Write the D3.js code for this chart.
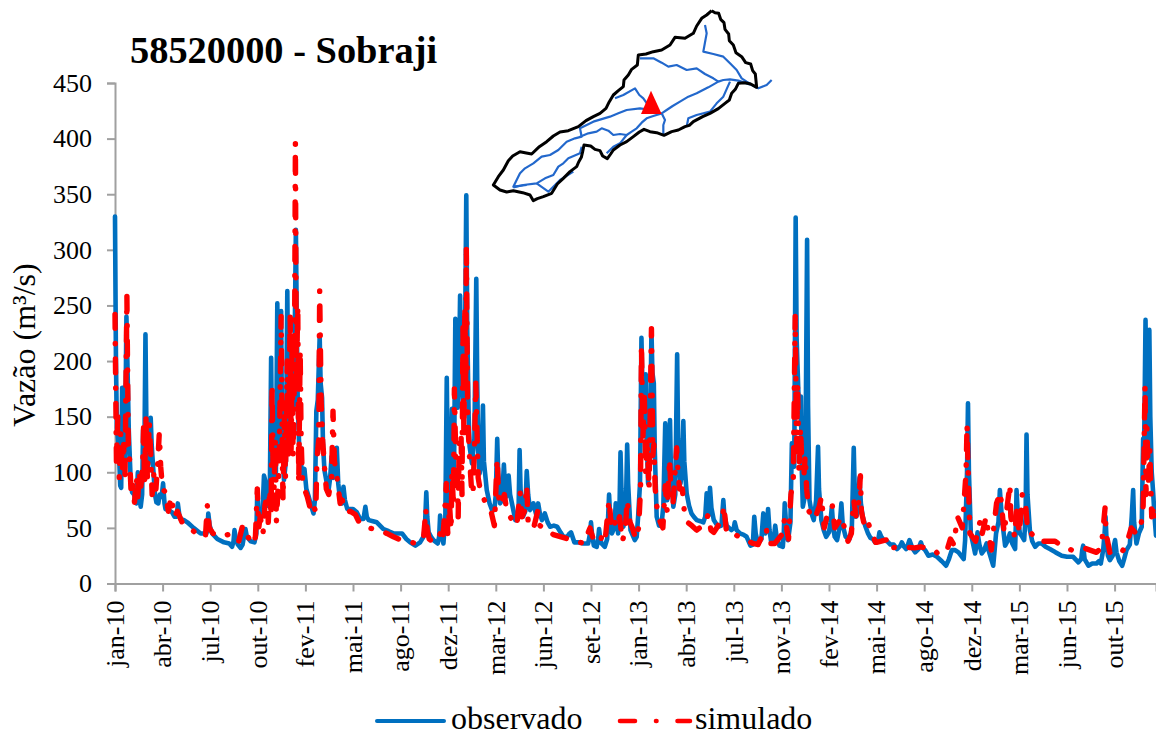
<!DOCTYPE html>
<html lang="pt">
<head>
<meta charset="utf-8">
<title>58520000 - Sobraji</title>
<script src="https://cdn.jsdelivr.net/npm/d3@7/dist/d3.min.js"></script>
<style>
html,body{margin:0;padding:0;background:#fff}
svg{display:block}
text{font-family:"Liberation Serif","Times New Roman",serif;fill:#000}
</style>
</head>
<body>
<svg id="chart" width="1156" height="736">
<defs>
<filter id="soft" x="-5%" y="-5%" width="110%" height="110%"><feGaussianBlur stdDeviation="0.45"/></filter>
<filter id="softer" x="-5%" y="-5%" width="110%" height="110%"><feGaussianBlur stdDeviation="0.6"/></filter>
</defs>
</svg>
<script>
const chartTitle = "58520000 - Sobraji";
const yTitle = "Vazão (m³/s)";
const seriesNames = ["observado", "simulado"];
const yTicks = [0, 50, 100, 150, 200, 250, 300, 350, 400, 450];
const tickEveryDays = 100;
const lastDay = 2187;
const xTickLabels = ["jan-10","abr-10","jul-10","out-10","fev-11","mai-11","ago-11","dez-11","mar-12","jun-12","set-12","jan-13","abr-13","jul-13","nov-13","fev-14","mai-14","ago-14","dez-14","mar-15","jun-15","out-15"];

// [days since 1 Jan 2010, m3/s]
const observado = [
[0,330],[2,200],[4,140],[8,122],[11,88],[13,86],[15,176],[19,176],[21,110],[24,240],[26,200],[29,137],[33,92],[36,82],[40,80],[45,72],[48,100],[50,82],[54,69],[57,80],[59,138],[62,130],[64,224],[66,140],[69,105],[73,125],[75,149],[77,125],[80,105],[84,80],[87,73],[91,72],[94,80],[98,78],[101,90],[104,72],[106,67],[113,66],[120,64],[125,60],[130,60],[132,72],[135,62],[138,58],[145,57],[152,55],[165,50],[180,45],[192,45],[194,48],[196,63],[199,52],[204,45],[215,40],[229,37],[240,36],[246,33],[249,38],[251,48],[254,40],[258,35],[264,32],[268,35],[272,45],[274,49],[277,42],[285,38],[293,37],[297,45],[299,85],[301,65],[304,57],[310,65],[313,97],[316,92],[320,70],[325,70],[328,203],[330,120],[333,95],[338,100],[341,252],[343,150],[345,120],[347,170],[349,245],[351,130],[355,93],[359,110],[362,263],[364,170],[367,145],[370,165],[374,155],[377,200],[380,318],[382,230],[384,160],[387,123],[393,99],[398,103],[402,85],[407,78],[412,70],[417,63],[420,75],[423,155],[426,165],[430,222],[432,180],[435,167],[437,125],[440,102],[445,90],[449,85],[452,95],[455,114],[457,100],[459,95],[463,100],[466,122],[469,90],[473,75],[477,72],[480,87],[483,75],
[488,67],[500,67],[508,64],[515,58],[522,58],[526,69],[529,60],[533,57],[542,56],[550,55],[564,49],[575,47],[585,45],[595,45],[603,45],[612,40],[620,37],[631,34],[641,37],[648,42],[651,50],[654,82],[656,60],[659,46],[664,42],[669,39],[678,36],[681,42],[683,61],[686,44],[690,36],[694,60],[697,185],[699,110],[703,63],[705,90],[708,157],[710,120],[712,90],[715,238],[717,190],[720,158],[723,200],[725,259],[727,200],[732,153],[735,200],[738,349],[740,230],[743,150],[745,123],[750,108],[755,130],[759,274],[761,180],[763,120],[766,99],[770,110],[773,160],[775,110],[781,84],[787,72],[792,66],[797,66],[800,80],[803,130],[805,100],[809,72],[813,75],[817,107],[819,90],[822,78],[825,82],[827,97],[830,80],[834,72],[841,57],[845,57],[848,70],[850,120],[852,85],[857,60],[862,65],[865,101],[868,80],[872,66],[879,72],[886,60],[889,72],[893,62],[897,57],[903,63],[909,55],[914,51],[922,52],[929,51],[936,46],[942,42],[950,42],[955,45],[958,46],[965,37],[975,37],[984,36],[994,36],[998,45],[1000,55],[1002,45],
[1006,34],[1012,33],[1015,40],[1017,49],[1019,42],[1022,36],[1029,33],[1034,40],[1036,60],[1038,80],[1040,62],[1044,45],[1049,50],[1052,72],[1054,58],[1057,45],[1060,70],[1062,118],[1064,85],[1068,51],[1073,60],[1076,125],[1078,90],[1083,48],[1092,39],[1096,42],[1099,60],[1103,90],[1106,221],[1108,180],[1112,135],[1115,188],[1117,130],[1120,90],[1124,120],[1127,228],[1129,190],[1132,180],[1134,120],[1138,60],[1143,52],[1148,52],[1152,70],[1156,144],[1158,100],[1160,75],[1163,85],[1166,147],[1168,100],[1173,69],[1177,80],[1181,206],[1183,130],[1188,90],[1191,100],[1194,146],[1196,110],[1201,81],[1206,70],[1211,63],[1216,60],[1222,57],[1230,56],[1236,55],[1240,60],[1243,81],[1245,62],[1248,62],[1250,86],[1253,68],[1258,57],[1267,51],[1274,52],[1278,75],[1280,62],[1285,52],[1295,48],[1300,50],[1302,55],[1306,48],[1313,45],[1320,44],[1327,42],[1335,34],[1340,35],[1343,60],[1346,45],[1351,36],[1358,40],[1362,63],[1364,48],[1366,45],[1370,50],[1372,67],[1375,48],[1379,36],[1384,40],[1387,52],[1390,42],[1396,34],[1403,33],[1405,45],[1407,72],[1410,52],[1414,39],[1419,55],[1422,126],[1427,105],[1430,329],[1432,220],[1436,168],[1441,168],[1443,100],[1445,69],[1450,80],[1454,309],[1456,160],[1459,75],[1464,62],[1468,57],[1473,75],[1477,123],[1479,85],[1484,57],[1489,48],[1494,42],[1500,46],[1503,55],[1506,69],[1509,50],[1512,42],[1517,39],[1522,50],[1526,72],[1529,52],[1535,42],[1543,40],[1548,50],[1552,122],[1554,85],[1557,60],[1561,65],[1564,95],[1567,72],[1571,60],[1576,52],[1582,45],
[1587,41],[1592,40],[1597,37],[1603,38],[1606,46],[1610,42],[1615,39],[1622,38],[1629,35],[1636,35],[1643,31],[1650,34],[1653,37],[1658,33],[1662,31],[1666,35],[1669,39],[1675,32],[1681,28],[1688,31],[1693,37],[1697,32],[1702,30],[1709,25],[1718,26],[1727,24],[1737,20],[1746,16],[1752,22],[1758,30],[1765,30],[1772,28],[1783,22],[1786,39],[1790,100],[1792,162],[1794,100],[1798,45],[1807,27],[1810,35],[1812,46],[1816,35],[1821,27],[1826,30],[1831,36],[1838,26],[1845,16],[1848,30],[1851,45],[1856,55],[1859,84],[1863,60],[1870,34],[1875,38],[1880,45],[1885,36],[1891,31],[1893,60],[1894,84],[1897,60],[1901,45],[1906,42],[1910,39],[1913,60],[1915,134],[1917,80],[1922,48],[1927,38],[1933,33],[1940,36],[1947,36],[1955,33],[1964,31],[1976,28],[1989,25],[2000,24],[2013,24],[2024,19],[2030,22],[2032,30],[2034,34],[2037,22],[2045,16],[2053,18],[2062,18],[2067,20],[2071,18],[2076,30],[2079,45],[2081,60],[2083,40],[2086,25],[2090,21],[2096,25],[2099,35],[2101,39],[2104,28],[2110,20],[2116,16],[2120,22],[2125,30],[2132,35],[2136,60],[2139,84],[2141,55],[2146,36],[2151,45],[2157,51],[2160,130],[2162,120],[2165,237],[2167,160],[2169,120],[2171,150],[2173,228],[2175,150],[2178,100],[2181,82],[2184,60],[2187,43]
];

const simulado = [
[0,242],[3,110],[6,150],[9,95],[12,135],[15,100],[18,125],[21,95],[25,258],[28,120],[31,110],[34,80],[38,88],[41,73],[45,95],[48,78],[51,100],[54,85],[58,105],[60,140],[62,90],[65,148],[68,95],[72,145],[75,118],[78,80],[82,100],[86,85],[90,110],[93,135],[96,105],[100,85],[106,82],[112,65],[118,78],[125,60],[131,65],[141,55],[150,52],[165,47],[173,44],[190,42],[194,70],[198,50],[206,45],[222,42],[246,45],[255,40],[260,38],[268,52],[275,45],[285,38],[290,35],[295,42],[299,85],[302,50],[305,60],[311,45],[315,70],[320,80],[322,55],[325,85],
[328,60],[330,180],[333,70],[337,130],[339,55],[343,90],[345,110],[349,240],[352,100],[353,75],[356,150],[358,95],[362,200],[364,110],[366,170],[368,245],[370,120],[372,210],[374,115],[377,190],[379,396],[381,180],[384,250],[386,90],[389,210],[391,130],[394,90],[398,85],[404,78],[410,68],[415,63],[418,68],[422,65],[424,110],[428,130],[430,263],[433,165],[436,130],[440,105],[444,85],[449,80],[455,95],[458,155],[461,110],[465,100],[468,90],[473,72],
[476,82],[479,70],[488,64],[494,65],[505,62],[513,55],[522,52],[534,50],[560,47],[571,45],[585,42],[596,40],[620,37],[635,36],[648,40],[651,55],[653,67],[656,48],[660,40],[667,38],[678,38],[683,45],[688,38],[692,60],[696,90],[699,45],[703,70],[706,48],[708,100],[711,70],[713,175],[716,110],[719,100],[721,60],[723,125],[727,135],[729,80],[731,230],[733,130],[735,250],[737,170],[738,305],[741,150],[743,130],[746,105],[749,85],[752,80],[755,120],[758,180],[761,130],[763,95],[767,85],[772,80],[776,75],[782,70],[790,65],[797,52],[803,112],[806,78],[810,70],[818,80],[822,68],[830,60],[838,55],[844,52],[851,82],[855,60],[860,65],[865,88],[868,55],[879,49],[888,65],[893,52],[900,50],[921,44],[952,40],[985,36],[998,50],[1001,45],[1005,40],
[1012,42],[1020,38],[1024,45],[1030,40],[1038,75],[1042,55],[1047,62],[1052,50],[1060,60],[1066,38],[1072,48],[1076,75],[1082,55],[1087,50],[1094,40],[1100,50],[1104,84],[1106,215],[1109,130],[1112,170],[1115,100],[1118,130],[1122,85],[1125,170],[1127,229],[1130,115],[1132,125],[1135,85],[1138,70],[1143,58],[1151,50],[1156,88],[1160,65],[1165,112],[1168,85],[1172,70],[1180,122],[1183,100],[1186,85],[1192,85],[1196,65],[1203,55],[1212,52],[1222,48],[1240,54],[1246,62],[1252,48],[1258,46],[1276,58],[1279,70],[1285,45],[1302,44],[1327,39],[1340,36],[1351,35],[1362,45],[1368,50],[1373,36],[1386,36],[1403,45],[1407,60],[1415,40],[1420,80],[1425,95],[1429,240],[1432,120],[1434,180],[1437,100],[1440,140],[1443,110],[1447,95],[1450,115],[1453,85],[1458,65],[1463,60],[1470,58],[1480,70],[1484,78],[1490,50],[1500,68],[1507,70],[1512,50],[1520,55],[1527,60],[1535,45],[1540,38],[1547,45],[1552,75],[1557,60],[1562,70],[1566,97],[1568,65],[1573,55],[1578,60],[1590,45],[1598,37],
[1600,37],[1628,40],[1632,32],[1650,33],[1680,32],[1693,33],[1722,30],[1730,26],[1748,30],[1755,40],[1762,35],[1770,60],[1780,50],[1788,100],[1790,143],[1793,90],[1796,45],[1808,38],[1818,57],[1822,45],[1830,60],[1835,45],[1841,30],[1852,72],[1860,82],[1868,45],[1874,68],[1880,89],[1882,60],[1890,42],[1894,65],[1900,45],[1906,80],[1912,76],[1918,45],[1925,45],[1940,38],[1958,38],[1975,38],[1985,35],[2010,30],[2020,30],[2035,32],[2062,28],[2072,32],[2080,68],[2082,45],[2090,28],[2100,30],[2115,28],[2125,35],[2135,50],[2145,45],[2155,50],[2160,70],[2164,178],[2166,80],[2168,140],[2171,90],[2174,120],[2178,60],[2183,70],[2187,50]
];

// Inset map of the basin, in its own map units
const basinOutline = [[695,32],[705,38],[716,40],[722,58],[732,68],[735,88],[746,102],[748,122],[760,135],[768,158],[785,170],[797,188],[812,192],[818,212],[826,222],[830,262],[812,252],[795,248],[775,250],[766,268],[755,280],[748,300],[735,310],[715,326],[690,340],[668,350],[640,365],[628,376],[615,380],[595,390],[575,395],[552,406],[530,398],[510,395],[492,388],[478,396],[460,410],[440,425],[420,435],[400,450],[392,462],[382,476],[368,468],[360,452],[345,448],[332,438],[312,435],[308,455],[304,472],[296,486],[290,500],[270,515],[250,535],[232,552],[215,580],[190,590],[172,596],[160,602],[150,585],[128,578],[100,572],[80,576],[60,570],[40,555],[55,530],[70,510],[85,482],[98,468],[120,455],[135,458],[155,462],[178,440],[200,425],[220,408],[240,396],[265,392],[295,380],[318,362],[340,350],[360,340],[378,325],[388,305],[400,285],[415,272],[430,260],[432,240],[445,225],[455,208],[472,195],[475,165],[498,162],[520,155],[545,150],[570,135],[585,112],[615,115],[640,100],[650,78],[665,55],[680,45],[695,32]];
const rivers = [
[[875,240],[860,255],[835,265],[815,255],[800,250],[775,242],[750,238],[730,240],[715,245],[685,262],[650,280],[625,290],[600,305],[578,318],[560,330],[545,340],[520,348],[500,355],[485,368],[470,385],[455,395],[440,405],[420,402],[400,405],[385,392],[365,385],[350,395],[325,400],[300,410]],
[[480,175],[520,175],[545,188],[565,200],[590,195],[620,210],[650,205],[675,222],[700,235],[715,245]],
[[675,75],[680,100],[670,155],[700,162],[730,170],[750,190],[770,210],[785,235],[800,245],[830,262]],
[[405,295],[430,285],[465,265],[478,285],[490,295],[515,330],[480,325],[440,330],[415,340],[390,350],[340,365],[300,385],[305,410],[285,415],[260,425],[235,450],[210,465],[185,470],[160,490],[135,505],[120,520],[100,560],[140,555]],
[[545,340],[555,360],[550,375],[550,405]],
[[750,245],[730,290],[710,310],[690,335],[650,345],[625,355],[620,380]],
[[440,405],[420,430],[400,440],[380,460]],
[[305,440],[300,460],[265,475],[250,490],[235,500],[220,525],[195,535],[170,550],[130,555],[100,562]],
[[170,550],[205,575],[240,540],[280,515]]
];
const gauge = [[513,272],[483,342],[545,342]];

const svg = d3.select("#chart");
const blue = "#0070C0", red = "#FF0000", axisGrey = "#A0A0A0";
const x = d3.scaleLinear().domain([0, lastDay]).range([115, 1156]);
const y = d3.scaleLinear().domain([0, 450]).range([583.5, 83]);

const yAxis = svg.append("g").attr("transform", `translate(${x(0)},0)`).call(d3.axisLeft(y).tickValues(yTicks).tickSize(8).tickPadding(15));
const xTickDays = xTickLabels.map((_, i) => i * tickEveryDays);
const xAxis = svg.append("g").attr("transform", `translate(0,${y(0)})`)
  .call(d3.axisBottom(x).tickValues(xTickDays).tickSize(8).tickFormat((d, i) => xTickLabels[i]));
[yAxis, xAxis].forEach(g => {
  g.selectAll(".domain").attr("stroke", axisGrey).attr("stroke-width", 2);
  g.selectAll("line").attr("stroke", axisGrey).attr("stroke-width", 2);
  g.selectAll("text").attr("font-size", 26).attr("fill", "#000").style("font-family", '"Liberation Serif",serif');
});
xAxis.selectAll("text")
  .attr("text-anchor", "end").attr("transform", "rotate(-90)")
  .attr("x", -17).attr("y", 0).attr("dy", "0.32em");

const line = d3.line().x(d => x(d[0])).y(d => y(d[1])).curve(d3.curveLinear);
const dash = "14 15 0.5 15";
const seriesLayer = svg.append("g").attr("filter", "url(#soft)");
seriesLayer.append("path").datum(observado).attr("d", line).attr("fill", "none")
  .attr("stroke", blue).attr("stroke-width", 4.6).attr("stroke-linejoin", "round").attr("stroke-linecap", "round");
seriesLayer.append("path").datum(simulado).attr("d", line).attr("fill", "none")
  .attr("stroke", red).attr("stroke-width", 5.4).attr("stroke-linejoin", "round").attr("stroke-linecap", "round")
  .attr("stroke-dasharray", dash);

svg.append("text").attr("x", 130).attr("y", 63).attr("font-size", 38.4).attr("font-weight", "bold").text(chartTitle);
svg.append("text").attr("transform", `translate(35,345) rotate(-90)`).attr("text-anchor", "middle").attr("font-size", 32).text(yTitle);

const legendKeys = d3.scalePoint().domain(seriesNames).range([377, 620]);
const legendY = 721;
svg.append("line").attr("x1", legendKeys("observado")).attr("x2", legendKeys("observado") + 67).attr("y1", legendY).attr("y2", legendY)
  .attr("stroke", blue).attr("stroke-width", 4).attr("stroke-linecap", "round");
svg.append("text").attr("x", 451).attr("y", 729).attr("font-size", 32).text("observado");
svg.append("path").attr("d", `M${legendKeys("simulado")},${legendY}H${legendKeys("simulado") + 70}`).attr("fill", "none")
  .attr("stroke", red).attr("stroke-width", 4.6).attr("stroke-linecap", "round").attr("stroke-dasharray", "15 21 0.5 21");
svg.append("text").attr("x", 695).attr("y", 729).attr("font-size", 32).text("simulado");

const mx = d3.scaleLinear().domain([0, 310]).range([480, 583.33]);
const my = d3.scaleLinear().domain([0, 210]).range([0, 70]);
const mapLine = d3.line().x(d => mx(d[0])).y(d => my(d[1]));
const map = svg.append("g").attr("filter", "url(#softer)");
rivers.forEach(r => map.append("path").attr("d", mapLine(r)).attr("fill", "none")
  .attr("stroke", "#2468CC").attr("stroke-width", 2.2).attr("stroke-linejoin", "round"));
map.append("path").attr("d", mapLine(basinOutline)).attr("fill", "none")
  .attr("stroke", "#000").attr("stroke-width", 3).attr("stroke-linejoin", "round");
map.append("path").attr("d", mapLine(gauge) + "Z").attr("fill", red);
</script>
</body>
</html>
